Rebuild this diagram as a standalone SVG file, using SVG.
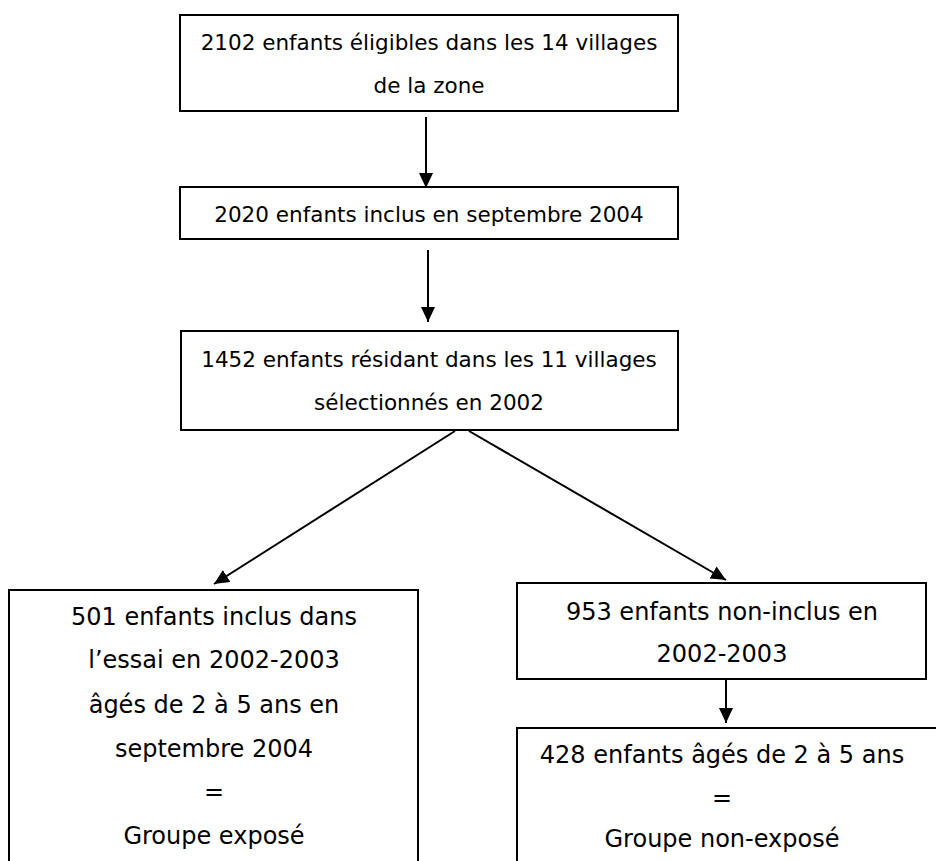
<svg xmlns="http://www.w3.org/2000/svg" width="936" height="861" viewBox="0 0 936 861">
<defs>
<style>
.box{fill:#fff;stroke:#000;stroke-width:2}
.t{font-family:"DejaVu Sans","Liberation Sans",sans-serif;font-size:21.5px;fill:#000;text-anchor:middle}
.b{font-size:24px}
.c{fill:none;stroke:#000;stroke-width:2}
</style>
<marker id="ah" markerUnits="userSpaceOnUse" markerWidth="16" markerHeight="14" refX="15" refY="7" orient="auto" viewBox="0 0 16 14">
<path d="M0,0 L15,7 L0,14 z" fill="#000"/>
</marker>
</defs>
<rect width="936" height="861" fill="#fff"/>
<g id="connectors">
<path class="c" d="M426,117 L426,188" marker-end="url(#ah)"/>
<path class="c" d="M428,250 L428,322" marker-end="url(#ah)"/>
<path class="c" d="M455,431 L214,584" marker-end="url(#ah)"/>
<path class="c" d="M469,431 L726,580" marker-end="url(#ah)"/>
<path class="c" d="M726,679 L726,723" marker-end="url(#ah)"/>
</g>
<g id="n1">
<rect class="box" x="180" y="15" width="498" height="96"/>
<text class="t" x="429" y="50">2102 enfants éligibles dans les 14 villages</text>
<text class="t" x="429" y="93">de la zone</text>
</g>
<g id="n2">
<rect class="box" x="180" y="187" width="498" height="52"/>
<text class="t" x="429" y="222">2020 enfants inclus en septembre 2004</text>
</g>
<g id="n3">
<rect class="box" x="181" y="331" width="497" height="99"/>
<text class="t" x="429" y="367">1452 enfants résidant dans les 11 villages</text>
<text class="t" x="429" y="410">sélectionnés en 2002</text>
</g>
<g id="n4">
<rect class="box" x="9" y="590" width="409" height="290"/>
<text class="t b" x="214" y="625">501 enfants inclus dans</text>
<text class="t b" x="214" y="668">l’essai en 2002-2003</text>
<text class="t b" x="214" y="713">âgés de 2 à 5 ans en</text>
<text class="t b" x="214" y="757">septembre 2004</text>
<text class="t b" x="214" y="800">=</text>
<text class="t b" x="214" y="844">Groupe exposé</text>
</g>
<g id="n5">
<rect class="box" x="517" y="583" width="409" height="96"/>
<text class="t b" x="722" y="620">953 enfants non-inclus en</text>
<text class="t b" x="722" y="662">2002-2003</text>
</g>
<g id="n6">
<rect class="box" x="517" y="728" width="440" height="160"/>
<text class="t b" x="722" y="763">428 enfants âgés de 2 à 5 ans</text>
<text class="t b" x="722" y="806">=</text>
<text class="t b" x="722" y="847">Groupe non-exposé</text>
</g>
</svg>
